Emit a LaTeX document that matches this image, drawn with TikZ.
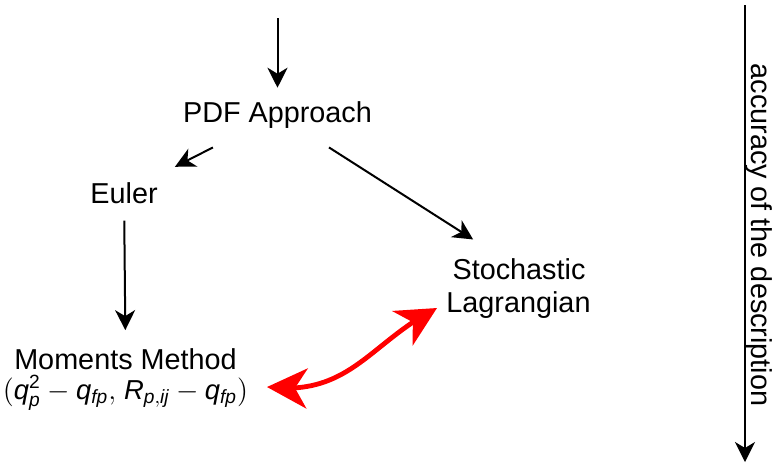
\documentclass[tikz,border=0pt]{standalone}
\usepackage{fontspec}
\setmainfont{Liberation Sans}
\usetikzlibrary{arrows.meta,bending}
\tikzset{
  txt/.style={anchor=base, inner sep=0pt, font=\fontsize{14.4}{17}\selectfont},
  flow/.style={line width=1pt, -{Stealth[length=10pt,width=10pt,inset=3pt]}},
  link/.style={red, line width=2.4pt,
    {Stealth[length=20pt,width=20pt,inset=6pt]}-{Stealth[length=20pt,width=20pt,inset=6pt]}}
}
\begin{document}
\begin{tikzpicture}[x=0.5pt,y=-0.5pt]
  \useasboundingbox (0,0) rectangle (773,463);

  \begin{scope}[every node/.style={txt}]
    \node (pdf)   at (277.5,122) {PDF Approach};
    \node (euler) at (124,203)   {Euler};
    \node[align=center] (mom) at (125.5,399) {Moments Method\\[-2.2pt]
      {\fontsize{13.7}{15}\selectfont
      $\mathrm{(}\mathit{q}_{\mathit{p}}^{\mathrm{2}}-\mathit{q}_{\mathit{fp}}\mathrm{,}\;
      \mathit{R}_{\mathit{p}\mathrm{,}\mathit{ij}}-\mathit{q}_{\mathit{fp}}\mathrm{)}$}};
    \node (stoch) at (519,279)   {Stochastic};
    \node (lagr)  at (518.5,312) {Lagrangian};
    \node[rotate=-90] (acc) at (751,235) {accuracy of the description};
  \end{scope}

  % free ends
  \coordinate (in)   at (277.5,18);
  \coordinate (top)  at (745,5);
  \coordinate (bot)  at (745,462);
  \coordinate (redl) at (267,387);
  \coordinate (redr) at (437,308);

  \begin{scope}[every edge/.style={draw, flow}]
    \path (in)    edge[shorten >=6.5pt] (pdf);
    \path (pdf)   edge[shorten <=21pt, shorten >=16.5pt] (euler);
    \path (pdf)   edge[shorten <=17.7pt, shorten >=17pt] (stoch);
    \path (euler) edge[shorten <=8.5pt, shorten >=9pt] (mom.north);
    \path (top)   edge (bot);
  \end{scope}

  \draw[link] (redl) .. controls (350,397) and (370,342) .. (redr);

\end{tikzpicture}
\end{document}
